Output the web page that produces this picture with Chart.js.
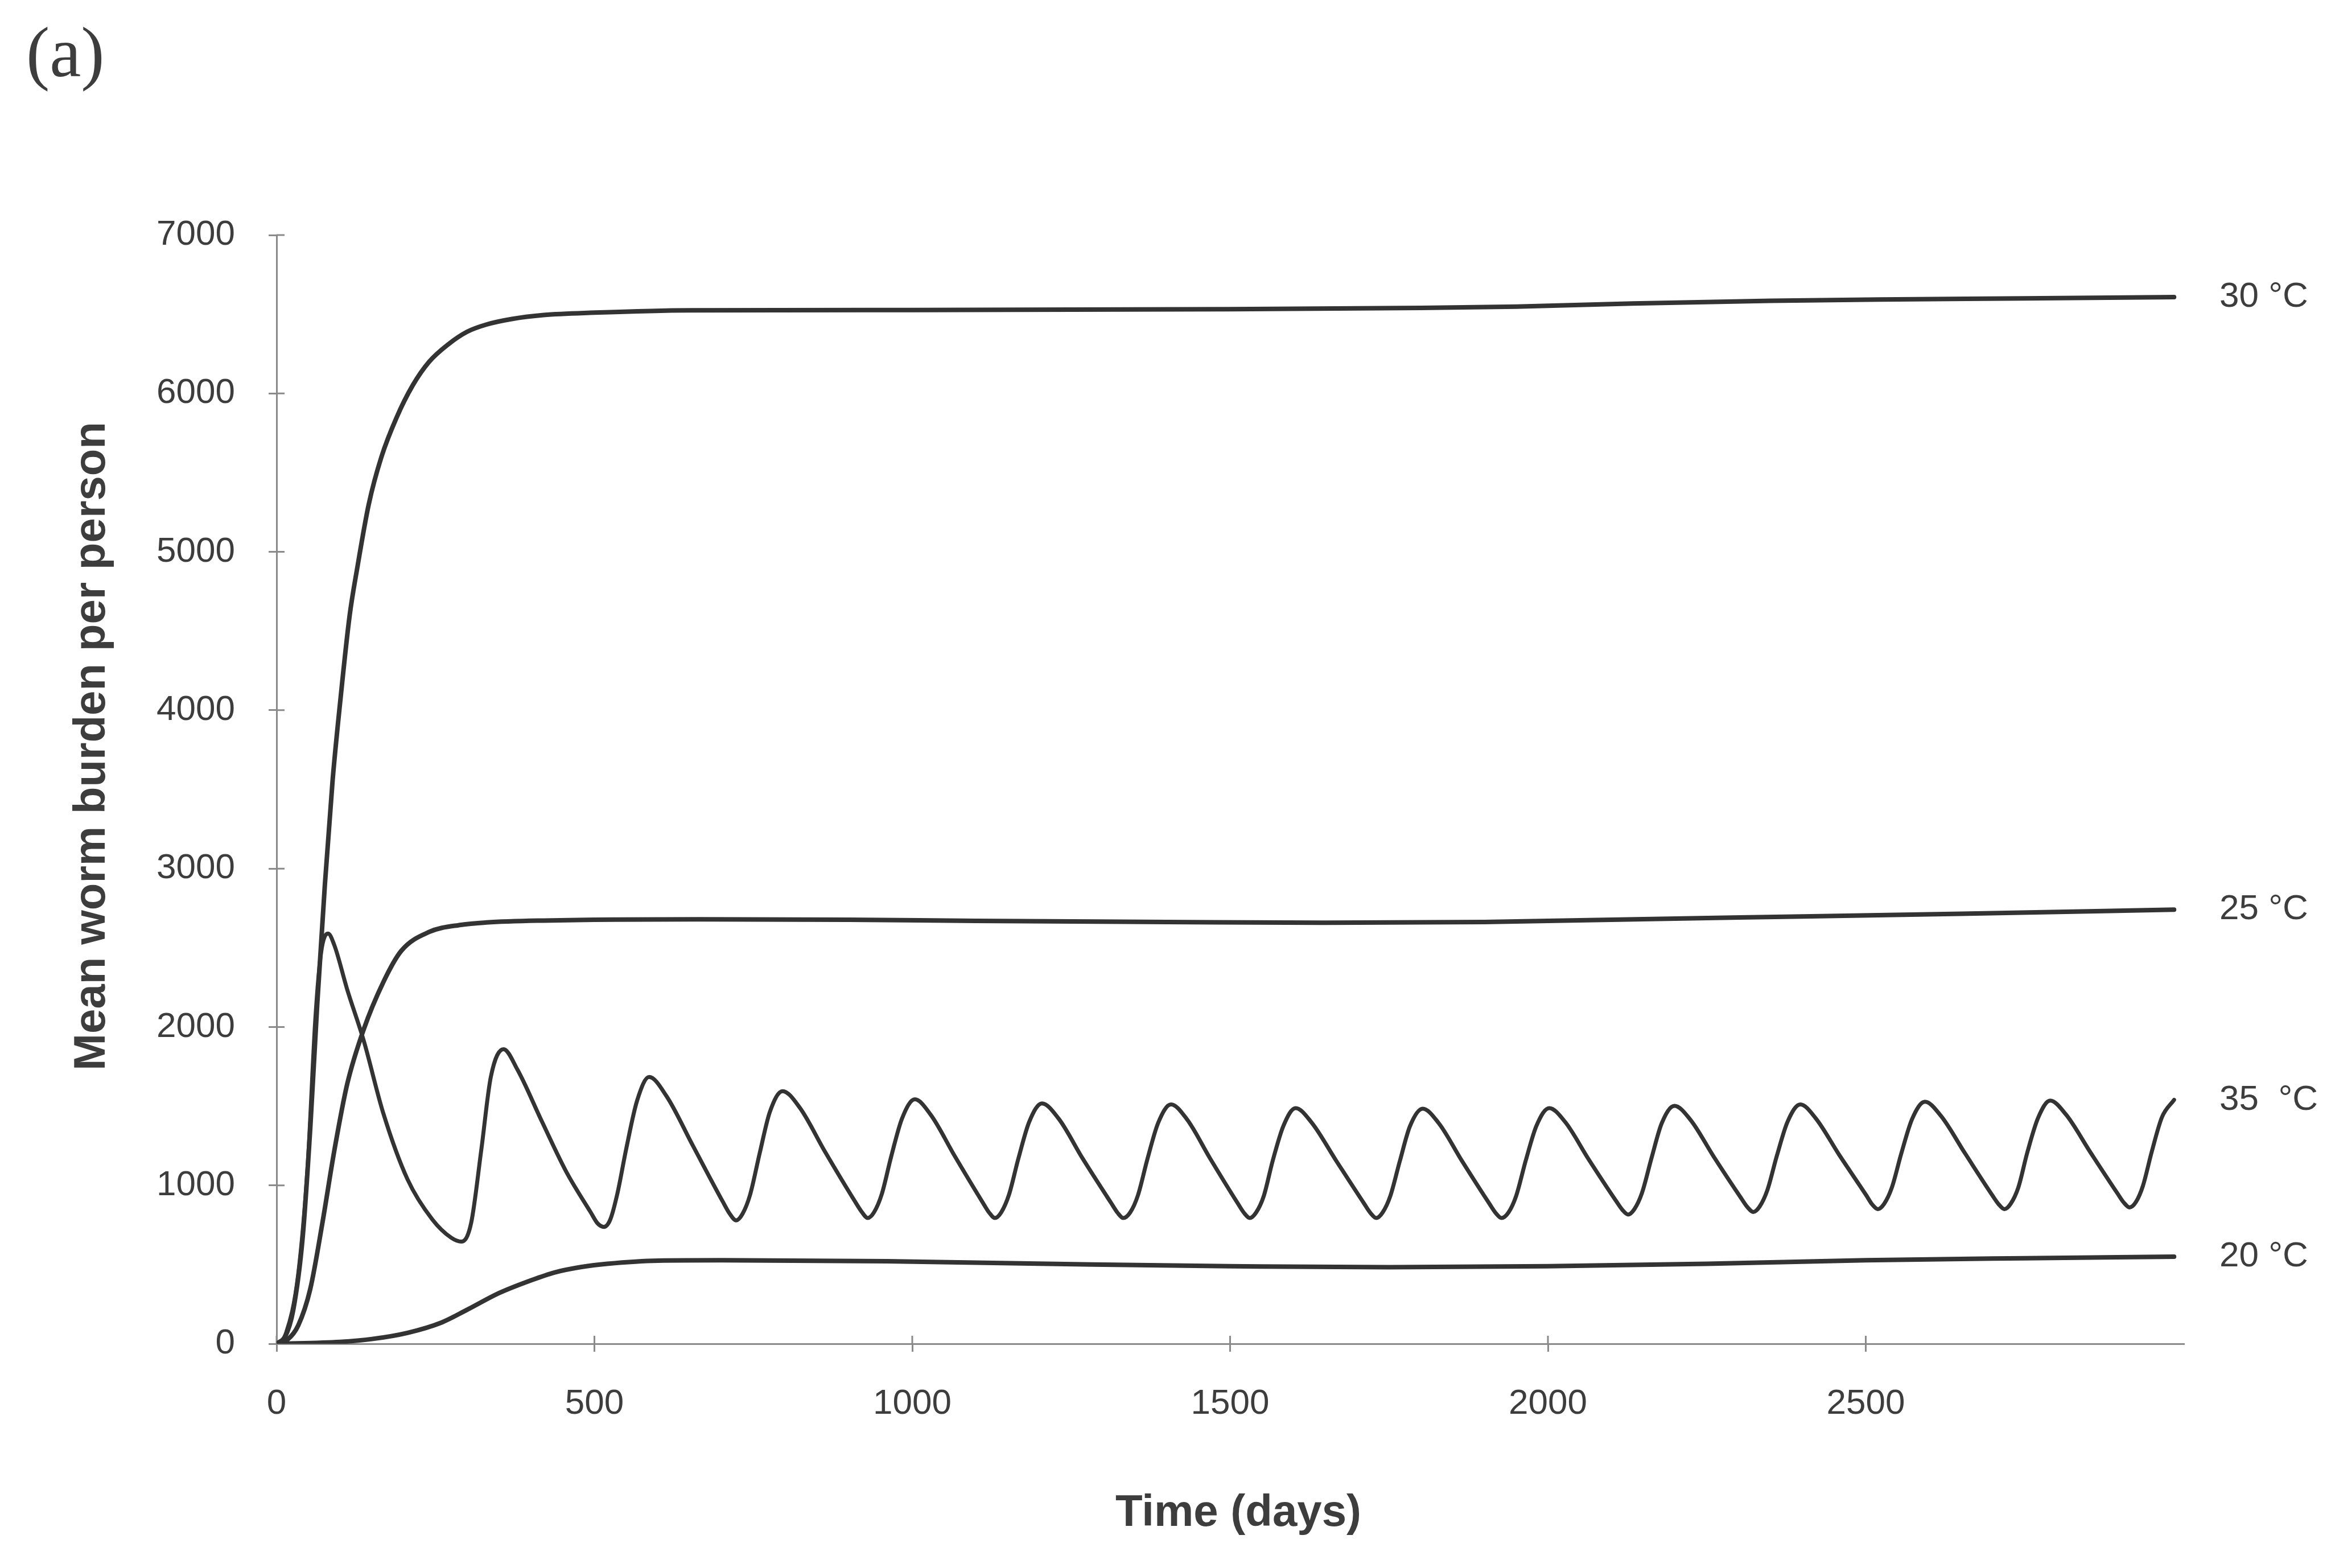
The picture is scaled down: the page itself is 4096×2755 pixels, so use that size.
<!DOCTYPE html>
<html>
<head>
<meta charset="utf-8">
<script src="https://cdn.jsdelivr.net/npm/chart.js@4.4.1/dist/chart.umd.min.js"></script>
<style>
  html, body { margin: 0; padding: 0; background: #fff; }
  canvas { display: block; }
</style>
</head>
<body>
<canvas id="worm-chart" width="4096" height="2755"></canvas>
<script>
// values (days, mean worm burden)
const days30 = [0, 13, 26, 41, 53, 64, 76, 88, 100, 115, 127, 145, 165, 189, 214, 240, 270, 300, 330, 370, 420, 500, 650, 1000, 1500, 1800, 1950, 2133, 2350, 2522, 2750, 2985];
const burden30 = [0, 40, 208, 669, 1361, 2146, 2900, 3550, 4050, 4600, 4900, 5300, 5600, 5850, 6050, 6200, 6310, 6390, 6435, 6470, 6495, 6510, 6525, 6527, 6532, 6540, 6548, 6568, 6585, 6593, 6600, 6608];

const days25 = [0, 17, 34, 53, 72, 91, 111, 137, 168, 196, 240, 290, 330, 420, 666, 900, 1100, 1400, 1650, 1900, 2150, 2400, 2650, 2985];
const burden25 = [0, 25, 115, 346, 761, 1223, 1638, 1984, 2284, 2480, 2600, 2645, 2660, 2672, 2680, 2677, 2670, 2663, 2658, 2663, 2681, 2698, 2715, 2741];

const days35 = [0, 15, 34, 49, 61, 70, 81, 91, 111, 137, 168, 206, 245, 275, 291, 306, 322, 337, 357,
  379, 417, 456, 494, 505, 515, 525, 536, 550, 567, 586,
  613, 655, 702, 713, 723, 733, 745, 760, 776, 796,
  823, 863, 910, 921, 930, 940, 952, 967, 984, 1004,
  1029, 1067, 1111, 1121, 1130, 1140, 1152, 1167, 1184, 1204,
  1230, 1268, 1313, 1323, 1332, 1343, 1355, 1370, 1387, 1407,
  1432, 1469, 1512, 1522, 1531, 1541, 1553, 1567, 1584, 1603,
  1628, 1667, 1711, 1721, 1730, 1740, 1752, 1767, 1783, 1803,
  1828, 1865, 1908, 1918, 1927, 1938, 1950, 1965, 1982, 2002,
  2027, 2064, 2107, 2117, 2126, 2136, 2148, 2163, 2179, 2199,
  2224, 2261, 2304, 2314, 2323, 2333, 2345, 2360, 2377, 2397,
  2421, 2458, 2501, 2510, 2519, 2529, 2541, 2556, 2573, 2593,
  2618, 2656, 2699, 2709, 2718, 2728, 2740, 2754, 2771, 2790,
  2815, 2853, 2896, 2906, 2915, 2925, 2936, 2950, 2966, 2985];
const burden35 = [0, 69, 438, 1130, 2053, 2469, 2590, 2515, 2238, 1915, 1454, 1038, 785, 669, 645, 761, 1223, 1684, 1860,
  1730, 1407, 1084, 831, 760, 738, 785, 946, 1230, 1533, 1684,
  1566, 1250, 897, 820, 779, 820, 942, 1203, 1464, 1595,
  1491, 1211, 898, 830, 794, 831, 944, 1184, 1423, 1543,
  1446, 1184, 891, 828, 794, 830, 939, 1170, 1401, 1517,
  1423, 1170, 888, 827, 794, 830, 937, 1167, 1396, 1511,
  1418, 1167, 887, 826, 794, 829, 933, 1155, 1377, 1488,
  1398, 1155, 884, 825, 794, 829, 932, 1153, 1374, 1484,
  1394, 1153, 884, 825, 794, 829, 933, 1155, 1377, 1488,
  1401, 1165, 903, 846, 816, 850, 953, 1173, 1392, 1502,
  1415, 1180, 919, 862, 832, 866, 968, 1185, 1402, 1511,
  1425, 1194, 936, 880, 850, 884, 986, 1203, 1420, 1528,
  1440, 1203, 938, 881, 850, 884, 987, 1206, 1425, 1535,
  1447, 1211, 949, 891, 861, 895, 997, 1214, 1431, 1540];

const days20 = [0, 100, 150, 206, 260, 300, 350, 400, 437, 480, 520, 600, 700, 960, 1283, 1500, 1750, 2000, 2250, 2500, 2750, 2985];
const burden20 = [0, 12, 30, 69, 135, 215, 320, 400, 450, 485, 505, 525, 527, 521, 500, 490, 483, 490, 505, 527, 540, 550];

const seriesLabels = ["30 °C", "25 °C", "35  °C", "20 °C"];
const xTicks = [0, 500, 1000, 1500, 2000, 2500];
const yTicks = [0, 1000, 2000, 3000, 4000, 5000, 6000, 7000];

const SANS = "'Liberation Sans', Arial, sans-serif";
const INK = "#333333";
const TEXT = "#3d3d3d";
const AXIS = "#8a8a8a";
const TICK_LEN = 14;

const toPoints = (xs, ys) => xs.map((x, i) => ({ x: x, y: ys[i] }));

const makeLine = (label, xs, ys, width) => ({
  label: label,
  data: toPoints(xs, ys),
  borderColor: INK,
  borderWidth: width,
  pointRadius: 0,
  fill: false,
  cubicInterpolationMode: "monotone",
  borderCapStyle: "round",
  borderJoinStyle: "round",
});

// text, inner halves of the tick marks, curve labels
const annotations = {
  id: "annotations",
  beforeDatasetsDraw(chart) {
    const ctx = chart.ctx;
    const { x, y } = chart.scales;
    ctx.save();
    ctx.strokeStyle = AXIS;
    ctx.lineWidth = 3;
    ctx.beginPath();
    yTicks.forEach((v) => {
      const py = y.getPixelForValue(v);
      ctx.moveTo(x.left, py);
      ctx.lineTo(x.left + TICK_LEN, py);
    });
    xTicks.forEach((v) => {
      const px = x.getPixelForValue(v);
      ctx.moveTo(px, y.bottom);
      ctx.lineTo(px, y.bottom - TICK_LEN);
    });
    ctx.stroke();
    ctx.restore();
  },
  afterDraw(chart) {
    const ctx = chart.ctx;
    const { y } = chart.scales;
    ctx.save();
    ctx.fillStyle = TEXT;

    ctx.font = "124px 'Liberation Serif', 'Times New Roman', serif";
    ctx.textAlign = "left";
    ctx.textBaseline = "alphabetic";
    ctx.fillText("(a)", 46, 134);

    ctx.font = "bold 78px " + SANS;
    ctx.textAlign = "center";
    ctx.textBaseline = "middle";
    ctx.fillText("Time (days)", 2176, 2659);

    ctx.save();
    ctx.translate(162, 1311);
    ctx.rotate(-Math.PI / 2);
    ctx.fillText("Mean worm burden per person", 0, 0);
    ctx.restore();

    ctx.font = "62px " + SANS;
    ctx.textAlign = "left";
    chart.data.datasets.forEach((ds, i) => {
      const last = ds.data[ds.data.length - 1];
      ctx.fillText(seriesLabels[i], 3900, y.getPixelForValue(last.y));
    });
    ctx.restore();
  },
};

new Chart(document.getElementById("worm-chart"), {
  type: "line",
  data: {
    datasets: [
      makeLine(seriesLabels[0], days30, burden30, 8),
      makeLine(seriesLabels[1], days25, burden25, 8),
      makeLine(seriesLabels[2], days35, burden35, 7),
      makeLine(seriesLabels[3], days20, burden20, 8),
    ],
  },
  options: {
    responsive: false,
    animation: false,
    devicePixelRatio: 1,
    layout: { padding: { left: 166, right: 259, top: 413, bottom: 194 } },
    plugins: {
      legend: { display: false },
      tooltip: { enabled: false },
    },
    scales: {
      x: {
        type: "linear",
        min: 0,
        max: 3000,
        afterFit: (s) => { s.height = 200; },
        afterBuildTicks: (s) => { s.ticks = xTicks.map((v) => ({ value: v })); },
        border: { color: AXIS, width: 3 },
        grid: { drawOnChartArea: false, color: AXIS, lineWidth: 3, tickLength: TICK_LEN },
        ticks: {
          autoSkip: false,
          maxRotation: 0,
          padding: 55,
          color: TEXT,
          font: { family: SANS, size: 62 },
          callback: (v) => String(v),
        },
      },
      y: {
        type: "linear",
        min: 0,
        max: 7000,
        afterFit: (s) => { s.width = 320; },
        afterBuildTicks: (s) => { s.ticks = yTicks.map((v) => ({ value: v })); },
        border: { color: AXIS, width: 3 },
        grid: { drawOnChartArea: false, color: AXIS, lineWidth: 3, tickLength: TICK_LEN },
        ticks: {
          padding: 59,
          color: TEXT,
          font: { family: SANS, size: 62 },
          callback: (v) => String(v),
        },
      },
    },
  },
  plugins: [annotations],
});
</script>
</body>
</html>
